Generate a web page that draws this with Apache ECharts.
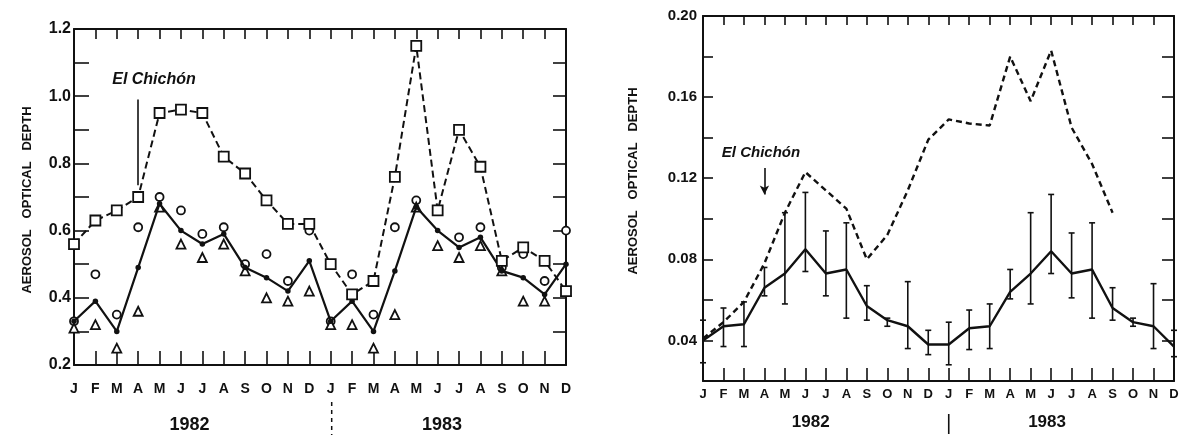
<!DOCTYPE html>
<html><head><meta charset="utf-8">
<script src="https://cdn.jsdelivr.net/npm/echarts@6/dist/echarts.min.js"></script>
<style>html,body{margin:0;padding:0;background:#fff}#c{width:1182px;height:435px}</style>
</head><body><div id="c"></div>
<script>
// ---- data ----
const categories = ['1982-01','1982-02','1982-03','1982-04','1982-05','1982-06','1982-07','1982-08','1982-09','1982-10','1982-11','1982-12',
                    '1983-01','1983-02','1983-03','1983-04','1983-05','1983-06','1983-07','1983-08','1983-09','1983-10','1983-11','1983-12'];
const monthLetters = ['J','F','M','A','M','J','J','A','S','O','N','D'];
const yearLabels = ['1982','1983'];
// left panel
const squares   = [0.56,0.63,0.66,0.70,0.95,0.96,0.95,0.82,0.77,0.69,0.62,0.62, 0.50,0.41,0.45,0.76,1.15,0.66,0.90,0.79,0.51,0.55,0.51,0.42];
const meanDots  = [0.33,0.39,0.30,0.49,0.68,0.60,0.56,0.59,0.49,0.46,0.42,0.51, 0.33,0.39,0.30,0.48,0.67,0.60,0.55,0.58,0.48,0.46,0.41,0.50];
const circles   = [0.33,0.47,0.35,0.61,0.70,0.66,0.59,0.61,0.50,0.53,0.45,0.60, 0.33,0.47,0.35,0.61,0.69,0.66,0.58,0.61,0.49,0.53,0.45,0.60];
const triangles = [0.31,0.32,0.25,0.36,0.67,0.56,0.52,0.56,0.48,0.40,0.39,0.42, 0.32,0.32,0.25,0.35,0.67,0.555,0.52,0.555,0.48,0.39,0.39,0.42];
const leftEruptionLine = [[3, 0.99], [3, 0.735]];
// right panel
const dashedSeries = [0.041,0.049,0.059,0.078,0.103,0.123,0.114,0.105,0.080,0.092,0.114,0.139, 0.149,0.147,0.146,0.180,0.158,0.183,0.145,0.127,0.103,null,null,null];
const solidSeries  = [0.040,0.047,0.048,0.066,0.073,0.085,0.073,0.075,0.057,0.050,0.047,0.038, 0.038,0.046,0.047,0.064,0.073,0.084,0.073,0.075,0.056,0.049,0.047,0.037];
const errHigh      = [0.050,0.056,0.059,0.076,0.103,0.113,0.094,0.098,0.067,0.051,0.069,0.045, 0.049,0.055,0.058,0.075,0.103,0.112,0.093,0.098,0.066,0.051,0.068,0.045];
const errLow       = [0.029,0.037,0.037,0.062,0.058,0.074,0.062,0.051,0.050,0.047,0.036,0.033, 0.028,0.0355,0.036,0.0605,0.058,0.073,0.061,0.051,0.050,0.047,0.036,0.032];
const rightEruptionArrow = [[3, 0.125], [3, 0.112]];

// ---- chart ----
const chart = echarts.init(document.getElementById('c'), null, {renderer:'canvas'});
const FONT = "'Liberation Sans', Arial, sans-serif";
const black = '#111';

function xAxisPair(gi, bottomTick, topTick, labelSize, margin) {
  return [
    {type:'category', gridIndex:gi, data:categories, boundaryGap:false, position:'bottom',
     axisLine:{lineStyle:{color:black,width:2}},
     axisTick:{inside:true,length:bottomTick,interval:0,lineStyle:{color:black,width:1.6}},
     axisLabel:{interval:0,margin:margin,color:black,fontFamily:FONT,fontWeight:'bold',fontSize:labelSize,
                formatter:(v,i)=>monthLetters[i%12]},
     splitLine:{show:false}},
    {type:'category', gridIndex:gi, data:categories, boundaryGap:false, position:'top',
     axisLine:{lineStyle:{color:black,width:2}},
     axisTick:{inside:true,length:topTick,interval:0,lineStyle:{color:black,width:1.6}},
     axisLabel:{show:false}, splitLine:{show:false}}
  ];
}
function yAxisPair(gi, min, max, interval, labelEvery, decimals, leftTick, rightTick, size, margin) {
  return [
    {type:'value', gridIndex:gi, min, max, interval, position:'left',
     axisLine:{show:true,lineStyle:{color:black,width:2}},
     axisTick:{show:true,inside:true,length:leftTick,lineStyle:{color:black,width:1.6}},
     axisLabel:{margin:margin,color:black,fontFamily:FONT,fontWeight:'bold',fontSize:size,
                formatter:v=>{const k=Math.round(v/interval); return (k%labelEvery===0)?v.toFixed(decimals):'';}},
     splitLine:{show:false}},
    {type:'value', gridIndex:gi, min, max, interval, position:'right',
     axisLine:{show:true,lineStyle:{color:black,width:2}},
     axisTick:{show:true,inside:true,length:rightTick,lineStyle:{color:black,width:1.6}},
     axisLabel:{show:false}, splitLine:{show:false}}
  ];
}

const errData = categories.map((c,i)=>[i, errLow[i], errHigh[i]]);
const openMark = {color:'#fff', borderColor:black, borderWidth:1.8, opacity:1};

const option = {
  backgroundColor:'#fff',
  animation:false,
  grid:[
    {left:74, top:29, width:492, height:336, containLabel:false},
    {left:703, top:16, width:471, height:365, containLabel:false}
  ],
  xAxis:[...xAxisPair(0,14,10,14,17), ...xAxisPair(1,13,9,13,7)],
  yAxis:[...yAxisPair(0,0.2,1.2,0.1,2,1,15,13,16,3), ...yAxisPair(1,0.02,0.20,0.02,2,2,10,12,15,6)],
  series:[
    {type:'scatter', name:'circles', xAxisIndex:0, yAxisIndex:0, data:circles,
     symbol:'circle', symbolSize:8, itemStyle:openMark, z:2},
    {type:'scatter', name:'triangles', xAxisIndex:0, yAxisIndex:0, data:triangles,
     symbol:'triangle', symbolSize:9, itemStyle:openMark, z:2},
    {type:'line', name:'mean', xAxisIndex:0, yAxisIndex:0, data:meanDots,
     symbol:'circle', symbolSize:5.5, showAllSymbol:true, lineStyle:{color:black,width:2.2},
     itemStyle:{color:black}, z:4},
    {type:'line', name:'squares', xAxisIndex:0, yAxisIndex:0, data:squares,
     symbol:'rect', symbolSize:10, showAllSymbol:true, lineStyle:{color:black,width:2,type:[7,4]},
     itemStyle:openMark, z:5,
     markLine:{silent:true, symbol:['none','none'], label:{show:false},
       lineStyle:{color:black,width:1.6,type:'solid'},
       data:[[{coord:leftEruptionLine[0]},{coord:leftEruptionLine[1]}]]}},

    {type:'line', name:'dashed', xAxisIndex:2, yAxisIndex:2, data:dashedSeries,
     symbol:'none', connectNulls:false, lineStyle:{color:black,width:2.4,type:[6,4]},
     markLine:{silent:true, symbol:['none','arrow'], symbolSize:[7,9], label:{show:false},
       lineStyle:{color:black,width:1.6,type:'solid'},
       data:[[{coord:rightEruptionArrow[0]},{coord:rightEruptionArrow[1]}]]}},
    {type:'line', name:'solid', xAxisIndex:2, yAxisIndex:2, data:solidSeries,
     symbol:'none', lineStyle:{color:black,width:2.4}},
    {type:'custom', name:'errors', xAxisIndex:2, yAxisIndex:2, data:errData,
     renderItem:(params, api)=>{
       const x = api.value(0);
       const lo = api.coord([x, api.value(1)]);
       const hi = api.coord([x, api.value(2)]);
       const w = 3;
       const st = {stroke:black, lineWidth:1.6};
       return {type:'group', children:[
         {type:'line', shape:{x1:lo[0],y1:lo[1],x2:hi[0],y2:hi[1]}, style:st},
         {type:'line', shape:{x1:lo[0]-w,y1:lo[1],x2:lo[0]+w,y2:lo[1]}, style:st},
         {type:'line', shape:{x1:hi[0]-w,y1:hi[1],x2:hi[0]+w,y2:hi[1]}, style:st}
       ]};
     }}
  ]
};
chart.setOption(option);

// decorations placed relative to the axes
const lx = i => chart.convertToPixel({xAxisIndex:0}, categories[i]);
const rx = i => chart.convertToPixel({xAxisIndex:2}, categories[i]);
const yearFont = "bold 18px " + FONT;
chart.setOption({graphic:[
  {type:'text', x:27, y:200, rotation:Math.PI/2,
   style:{text:'AEROSOL   OPTICAL   DEPTH', font:"bold 13px "+FONT, fill:black, align:'center', verticalAlign:'middle'}},
  {type:'text', x:633, y:181, rotation:Math.PI/2,
   style:{text:'AEROSOL   OPTICAL   DEPTH', font:"bold 13px "+FONT, fill:black, align:'center', verticalAlign:'middle'}},
  {type:'text', x:154, y:80, style:{text:'El Chichón', font:"italic bold 16px "+FONT, fill:black, align:'center', verticalAlign:'middle'}},
  {type:'text', x:761, y:153, style:{text:'El Chichón', font:"italic bold 15px "+FONT, fill:black, align:'center', verticalAlign:'middle'}},
  {type:'text', x:lx(5)+(lx(6)-lx(5))*0.4, y:425, style:{text:yearLabels[0], font:yearFont, fill:black, align:'center', verticalAlign:'middle'}},
  {type:'text', x:lx(17)+(lx(18)-lx(17))*0.2, y:425, style:{text:yearLabels[1], font:yearFont, fill:black, align:'center', verticalAlign:'middle'}},
  {type:'text', x:rx(5)+(rx(6)-rx(5))*0.26, y:422, style:{text:yearLabels[0], font:"bold 17px "+FONT, fill:black, align:'center', verticalAlign:'middle'}},
  {type:'text', x:rx(16)+(rx(17)-rx(16))*0.8, y:422, style:{text:yearLabels[1], font:"bold 17px "+FONT, fill:black, align:'center', verticalAlign:'middle'}},
  {type:'line', shape:{x1:lx(12)+1, y1:402, x2:lx(12)+1, y2:435}, style:{stroke:black, lineWidth:1.5, lineDash:[4,4]}},
  {type:'line', shape:{x1:rx(12), y1:414, x2:rx(12), y2:434}, style:{stroke:black, lineWidth:1.6}}
]});
</script>
</body></html>
